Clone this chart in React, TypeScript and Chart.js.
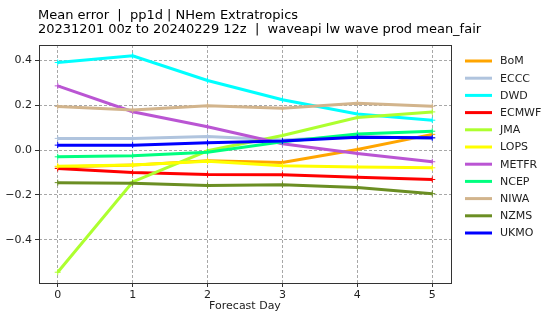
import React, { useEffect, useRef } from "react";
import { Chart, registerables } from "chart.js";

Chart.register(...registerables);

const days = [0, 1, 2, 3, 4, 5];
const seriesNames = ["BoM", "ECCC", "DWD", "ECMWF", "JMA", "LOPS", "METFR", "NCEP", "NIWA", "NZMS", "UKMO"];
const seriesColors = ["#FFA500", "#B0C4DE", "#00FFFF", "#FF0000", "#ADFF2F", "#FFFF00", "#BA55D3", "#00FF7F", "#D2B48C", "#6B8E23", "#0000FF"];

const bom = [-0.075, -0.067, -0.048, -0.055, 0.003, 0.07];
const eccc = [0.052, 0.052, 0.061, 0.045, 0.06, 0.052];
const dwd = [0.39, 0.42, 0.31, 0.224, 0.161, 0.133];
const ecmwf = [-0.082, -0.1, -0.109, -0.11, -0.121, -0.131];
const jma = [-0.544, -0.142, -0.003, 0.065, 0.145, 0.17];
const lops = [-0.072, -0.066, -0.05, -0.07, -0.075, -0.079];
const metfr = [0.286, 0.171, 0.104, 0.028, -0.015, -0.052];
const ncep = [-0.03, -0.025, -0.01, 0.037, 0.072, 0.084];
const niwa = [0.194, 0.179, 0.197, 0.186, 0.209, 0.195];
const nzms = [-0.145, -0.148, -0.158, -0.154, -0.167, -0.194];
const ukmo = [0.022, 0.022, 0.033, 0.04, 0.057, 0.055];

const seriesValues = [bom, eccc, dwd, ecmwf, jma, lops, metfr, ncep, niwa, nzms, ukmo];

const yTicks = [-0.4, -0.2, 0, 0.2, 0.4];
const titleLine1 = "Mean error  |  pp1d | NHem Extratropics";
const titleLine2 = "20231201 00z to 20240229 12z  |  waveapi lw wave prod mean_fair";
const xTitle = "Forecast Day";

const FONT = "'DejaVu Sans', sans-serif";

export default function App() {
  const ref = useRef<HTMLCanvasElement | null>(null);

  useEffect(() => {
    const canvas = ref.current;
    if (!canvas) return;
    const n = seriesNames.length;
    const datasets = seriesNames.map((name, i) => ({
      label: name,
      data: days.map((d, j) => ({ x: d, y: seriesValues[i][j] })),
      borderColor: seriesColors[i],
      backgroundColor: seriesColors[i],
      borderWidth: 3,
      pointStyle: "cross" as const,
      pointRadius: 3,
      pointBorderWidth: 1,
      pointBorderColor: seriesColors[i],
      fill: false,
      tension: 0,
      order: n - i,
    }));

    const decor = {
      id: "decor",
      afterDatasetsDraw(chart: any) {
        const { ctx, chartArea } = chart;
        ctx.save();
        ctx.strokeStyle = "#333333";
        ctx.lineWidth = 1;
        ctx.setLineDash([]);
        ctx.strokeRect(
          Math.round(chartArea.left) + 0.5,
          Math.round(chartArea.top) + 0.5,
          Math.round(chartArea.right - chartArea.left),
          Math.round(chartArea.bottom - chartArea.top)
        );
        ctx.restore();
      },
      afterDraw(chart: any) {
        const { ctx } = chart;
        ctx.save();
        ctx.fillStyle = "#000000";
        ctx.font = `13px ${FONT}`;
        ctx.textBaseline = "alphabetic";
        ctx.textAlign = "left";
        ctx.fillText(titleLine1, 38, 18.5);
        ctx.fillText(titleLine2, 38, 32.5);
        // legend
        ctx.font = `11px ${FONT}`;
        ctx.textBaseline = "middle";
        chart.data.datasets.forEach((ds: any, i: number) => {
          const y = 61 + i * 17.2;
          ctx.strokeStyle = ds.borderColor;
          ctx.lineWidth = 3;
          ctx.beginPath();
          ctx.moveTo(465, y);
          ctx.lineTo(492, y);
          ctx.stroke();
          ctx.fillStyle = "#222222";
          ctx.fillText(ds.label, 500, y + 0.5);
        });
        ctx.restore();
      },
    };

    const gridOpts = {
      color: "#a8a8a8",
      lineWidth: 1,
      drawTicks: true,
      tickLength: 4,
      tickColor: "#333333",
      tickBorderDash: [],
    } as any;

    const chart = new Chart(canvas, {
      type: "line",
      data: { datasets },
      options: {
        animation: false,
        responsive: false,
        devicePixelRatio: 1,
        layout: { padding: { top: 45, left: 0, right: 92, bottom: 0 } },
        plugins: {
          legend: { display: false },
          title: { display: false },
          tooltip: { enabled: false },
        },
        scales: {
          x: {
            type: "linear",
            min: -0.25,
            max: 5.25,
            afterBuildTicks: (s: any) => {
              s.ticks = days.map((v) => ({ value: v }));
            },
            afterFit: (s: any) => {
              s.height = 33;
            },
            border: { display: false, dash: [3, 2] },
            grid: gridOpts,
            ticks: {
              font: { family: FONT, size: 11 },
              color: "#222222",
              padding: 2,
              maxRotation: 0,
              callback: (v: any) => String(v),
            },
            title: {
              display: true,
              text: xTitle,
              font: { family: FONT, size: 11 },
              color: "#222222",
              padding: { top: 0, bottom: 3 },
            },
          },
          y: {
            type: "linear",
            min: -0.592,
            max: 0.468,
            afterBuildTicks: (s: any) => {
              s.ticks = yTicks.map((v) => ({ value: v }));
            },
            afterFit: (s: any) => {
              s.width = 39;
            },
            border: { display: false, dash: [3, 2] },
            grid: gridOpts,
            ticks: {
              font: { family: FONT, size: 11 },
              color: "#222222",
              padding: 3,
              callback: (v: any) => {
                const num = Number(v);
                const s = Math.abs(num).toFixed(1);
                return num < -1e-9 ? "\u2212" + s : s;
              },
            },
          },
        },
      },
      plugins: [decor],
    });
    return () => chart.destroy();
  }, []);

  return (
    <div style={{ position: "fixed", left: 0, top: 0, width: 543, height: 316, background: "#ffffff" }}>
      <canvas ref={ref} width={543} height={316} style={{ width: 543, height: 316, display: "block" }} />
    </div>
  );
}
